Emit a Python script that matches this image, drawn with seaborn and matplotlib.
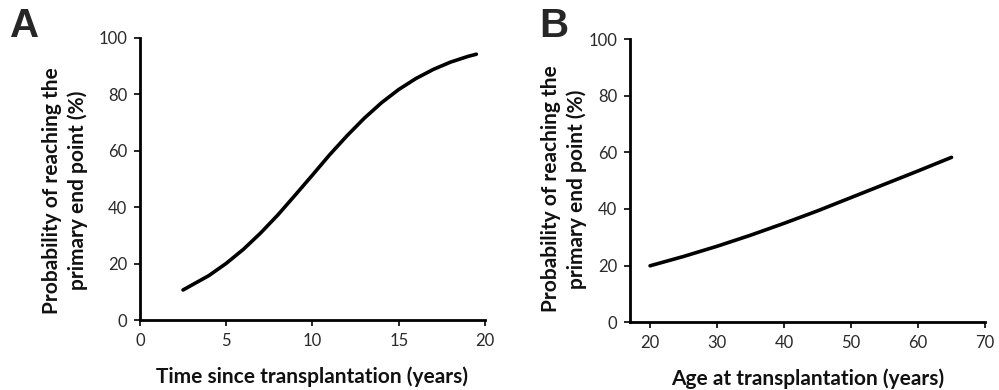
import numpy as np
import pandas as pd
import matplotlib
matplotlib.use("Agg")
import matplotlib.pyplot as plt
import seaborn as sns

# Panel A: probability vs time since transplantation
time_years = [2.5, 3, 4, 5, 6, 7, 8, 9, 10, 11, 12, 13, 14, 15, 16, 17, 18, 19, 19.5]
prob_time = [10.7, 12.4, 15.8, 20.1, 25.1, 30.9, 37.3, 44.3, 51.4, 58.6, 65.3, 71.5, 77.0, 81.7, 85.6, 88.8, 91.4, 93.4, 94.2]

# Panel B: probability vs age at transplantation
age_years = [20, 25, 30, 35, 40, 45, 50, 55, 60, 65]
prob_age = [19.9, 23.2, 26.8, 30.7, 34.9, 39.3, 44.0, 48.7, 53.4, 58.2]

ylabel = "Probability of reaching the\nprimary end point (%)"
xlabel_a = "Time since transplantation (years)"
xlabel_b = "Age at transplantation (years)"

sns.set_theme(style="ticks")
plt.rcParams["font.family"] = ["Lato", "DejaVu Sans"]

fig = plt.figure(figsize=(9.99, 3.9), dpi=100)
ax_a = fig.add_axes([0.140, 0.179, 0.3455, 0.724])
ax_b = fig.add_axes([0.6306, 0.174, 0.3554, 0.726])

df_a = pd.DataFrame({"t": time_years, "p": prob_time})
df_b = pd.DataFrame({"t": age_years, "p": prob_age})

sns.lineplot(data=df_a, x="t", y="p", ax=ax_a, color="black", linewidth=2.6)
sns.lineplot(data=df_b, x="t", y="p", ax=ax_b, color="black", linewidth=2.6)

for ax, xlim, xticks, xlabel, label_x, label_y in [
    (ax_a, (0, 20), [0, 5, 10, 15, 20], xlabel_a, -0.15, 0.46),
    (ax_b, (17, 70), [20, 30, 40, 50, 60, 70], xlabel_b, -0.12, 0.47),
]:
    ax.set_xlim(*xlim)
    ax.set_ylim(0, 100)
    ax.set_xticks(xticks)
    ax.set_yticks([0, 20, 40, 60, 80, 100])
    ax.set_xlabel(xlabel, fontsize=15, fontweight="bold", color="#111111")
    ax.set_ylabel(ylabel, fontsize=15, fontweight="bold", color="#111111",
                  linespacing=1.35)
    ax.yaxis.set_label_coords(label_x, label_y)
    ax.xaxis.set_label_coords(0.5, -0.165)
    sns.despine(ax=ax)
    for side in ("left", "bottom"):
        ax.spines[side].set_linewidth(2.0)
        ax.spines[side].set_color("black")
    ax.tick_params(axis="both", labelsize=12, labelcolor="#2a2a2a",
                   length=4, width=1.2, color="black", pad=5)

fig.text(0.010, 0.905, "A", fontsize=29, fontweight="bold",
         family=["Liberation Sans", "DejaVu Sans"])
fig.text(0.540, 0.905, "B", fontsize=29, fontweight="bold",
         family=["Liberation Sans", "DejaVu Sans"])

fig.savefig("out.png", dpi=100, facecolor="white")
